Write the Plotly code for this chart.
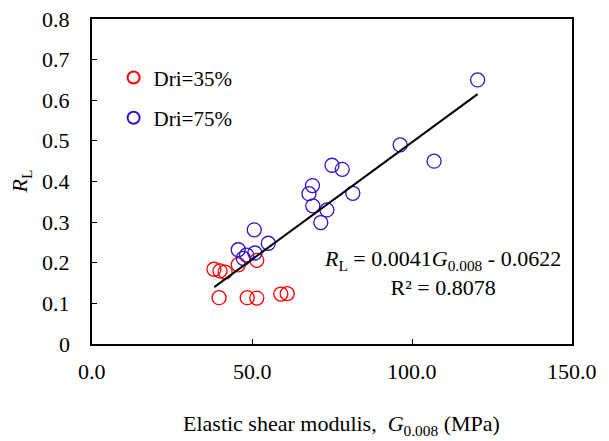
import plotly.graph_objects as go

# Data
red_x = [38.1, 40.0, 41.6, 45.7, 51.5, 39.7, 48.5, 51.5, 59.0, 61.0]
red_y = [0.184, 0.180, 0.177, 0.195, 0.206, 0.114, 0.114, 0.113, 0.123, 0.124]

blue_x = [120.5, 96.3, 106.9, 75.0, 78.2, 68.9, 67.8, 81.5, 69.0, 73.4, 71.5,
          50.7, 55.1, 45.7, 48.3, 50.9, 47.3]
blue_y = [0.650, 0.490, 0.450, 0.440, 0.430, 0.390, 0.370, 0.371, 0.340, 0.330, 0.299,
          0.281, 0.248, 0.232, 0.219, 0.224, 0.211]

trend_x = [38.2, 120.5]
trend_y = [0.140, 0.615]

x_ticks = [0, 50, 100, 150]
x_labels = ["0.0", "50.0", "100.0", "150.0"]
y_ticks = [0, 0.1, 0.2, 0.3, 0.4, 0.5, 0.6, 0.7, 0.8]
y_labels = ["0", "0.1", "0.2", "0.3", "0.4", "0.5", "0.6", "0.7", "0.8"]

FONT = "Liberation Serif"
RED = "#FF0000"
BLUE = "#3311CC"

fig = go.Figure()
fig.add_trace(go.Scatter(
    x=red_x, y=red_y, mode="markers", name="Dri=35%", legendgroup="a",
    marker=dict(symbol="circle-open", size=14, color=RED, line=dict(width=1.3, color=RED)),
))
fig.add_trace(go.Scatter(
    x=blue_x, y=blue_y, mode="markers", name="Dri=75%", legendgroup="b",
    marker=dict(symbol="circle-open", size=14, color=BLUE, line=dict(width=1.3, color=BLUE)),
))
fig.add_trace(go.Scatter(
    x=trend_x, y=trend_y, mode="lines", showlegend=False,
    line=dict(color="black", width=2),
))

# tick labels placed through the axes' own scales (serif rendering)
tick_annotations = []
for v, t in zip(x_ticks, x_labels):
    tick_annotations.append(dict(
        text=t, xref="x", x=v, yref="paper", y=0,
        xanchor="center", yanchor="middle", yshift=-27, showarrow=False,
        font=dict(family=FONT, size=22, color="black"),
    ))
for v, t in zip(y_ticks, y_labels):
    tick_annotations.append(dict(
        text=t, xref="paper", x=0, yref="y", y=v,
        xanchor="right", yanchor="middle", xshift=-20, showarrow=False,
        font=dict(family=FONT, size=22, color="black"),
    ))

fig.update_layout(
    template="none",
    width=609, height=441,
    margin=dict(l=92, r=37, t=19, b=97),
    paper_bgcolor="white", plot_bgcolor="white",
    font=dict(family=FONT, size=22, color="black"),
    showlegend=True,
    legend=dict(
        x=0.045, y=0.882, xanchor="left", yanchor="top",
        bgcolor="rgba(0,0,0,0)", itemsizing="constant",
        tracegroupgap=10, font=dict(family=FONT, size=21, color="black"),
        traceorder="grouped",
    ),
    xaxis=dict(
        range=[0, 150], tickvals=x_ticks, showticklabels=False,
        showgrid=False, zeroline=False,
        showline=True, linecolor="black", linewidth=1.5, mirror=True,
        ticks="inside", ticklen=5, tickcolor="black", tickwidth=1,
    ),
    yaxis=dict(
        range=[0, 0.8], tickvals=y_ticks, showticklabels=False,
        showgrid=False, zeroline=False,
        showline=True, linecolor="black", linewidth=1.5, mirror=True,
        ticks="inside", ticklen=5, tickcolor="black", tickwidth=1,
    ),
    annotations=tick_annotations + [
        dict(
            text="Elastic shear modulis, \u00a0<i>G</i><sub>0.008</sub> (MPa)",
            xref="paper", yref="paper", x=0.52, y=-0.25,
            xanchor="center", yanchor="middle", showarrow=False,
            font=dict(family=FONT, size=22),
        ),
        dict(
            text="<i>R</i><sub>L</sub>",
            xref="paper", yref="paper", x=-0.148, y=0.5,
            xanchor="center", yanchor="middle", showarrow=False, textangle=-90,
            font=dict(family=FONT, size=22),
        ),
        dict(
            text="<i>R</i><sub>L</sub> = 0.0041<i>G</i><sub>0.008</sub> - 0.0622<br>R² = 0.8078",
            xref="paper", yref="paper", x=0.73, y=0.218,
            xanchor="center", yanchor="middle", showarrow=False, align="center",
            font=dict(family=FONT, size=22),
        ),
    ],
)

fig.write_html("out.html")
